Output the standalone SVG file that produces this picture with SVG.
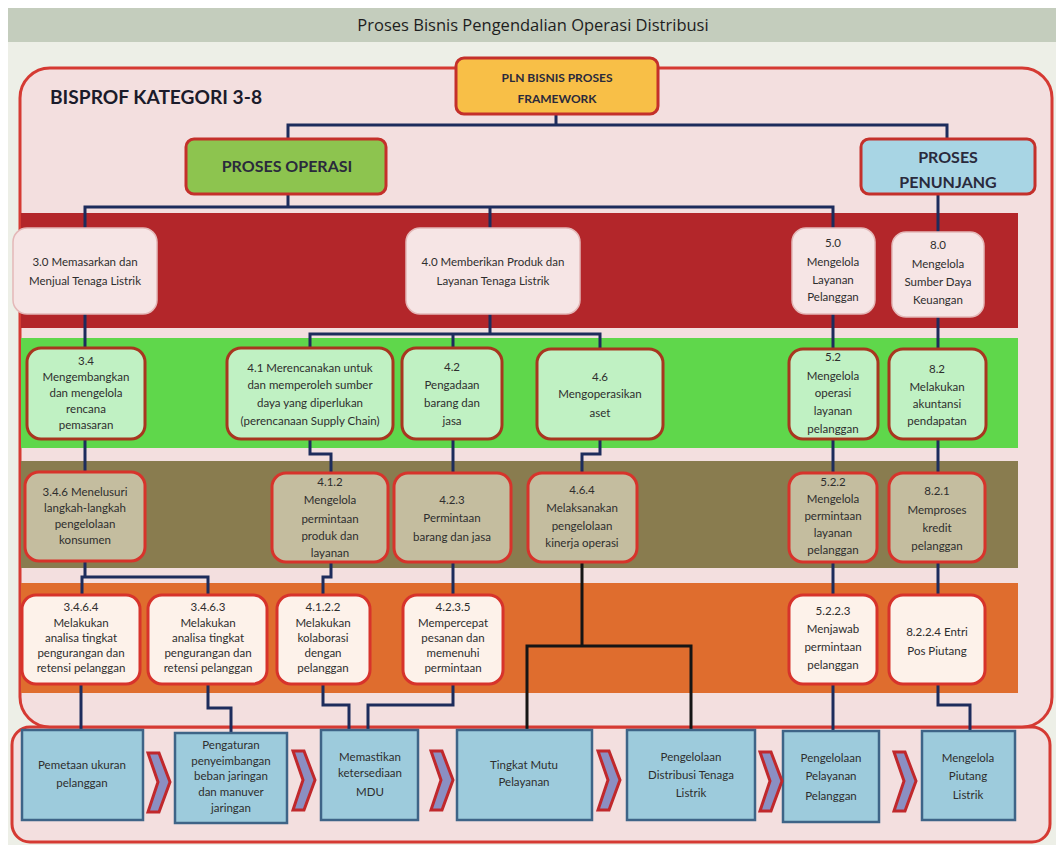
<svg xmlns="http://www.w3.org/2000/svg" width="1056" height="845" viewBox="0 0 1056 845">
  <style>
    .bg { fill: #edefe7; }
    .titlebar { fill: #c4cdbd; }
    .title { font-family: "Open Sans", "Liberation Sans", sans-serif; font-size: 16.5px; fill: #1e1e1e; text-anchor: middle; }
    .frame { fill: #f3dfdf; stroke: #d53a33; stroke-width: 3; }
    .heading { font-family: Lato, "Liberation Sans", sans-serif; font-weight: bold; fill: #1b1b2b; }
    .top { stroke: #c4302b; stroke-width: 3; }
    .top-t { font-family: Lato, "Liberation Sans", sans-serif; font-weight: bold; fill: #2a2a3c; text-anchor: middle; }
    .r1 { fill: #f6e5e5; stroke: #e4b8b8; stroke-width: 1.5; }
    .r2 { fill: #c0f1c3; stroke: #a8361f; stroke-width: 3; }
    .r3 { fill: #c4bd9f; stroke: #d7332b; stroke-width: 3; }
    .r4 { fill: #fdf2ea; stroke: #d7332b; stroke-width: 3; }
    .bx { fill: #9dcbdc; stroke: #3e6487; stroke-width: 2.5; }
    .t { font-family: Lato, "Liberation Sans", sans-serif; font-size: 11.5px; fill: #2e2e2e; text-anchor: middle; }
    .link { fill: none; stroke: #1d2c5c; stroke-width: 3; }
    .link-k { fill: none; stroke: #151515; stroke-width: 3; }
    .chev { fill: #8b8fc2; stroke: #c0282c; stroke-width: 3; stroke-linejoin: miter; }
  </style>
  <defs>
    <polygon id="chevron" points="0,0 11,0 22,29 11,59 0,59 10,29"/>
  </defs>

  <!-- page background and title bar -->
  <rect x="0" y="0" width="1056" height="845" fill="#ffffff"/>
  <rect class="bg" x="8" y="42" width="1048" height="803"/>
  <rect class="titlebar" x="8" y="8" width="1048" height="34"/>
  <text class="title" x="533" y="31">Proses Bisnis Pengendalian Operasi Distribusi</text>

  <!-- frames: value chain strip and category frame -->
  <rect class="frame" x="12" y="727" width="1038" height="115" rx="18"/>
  <rect class="frame" x="20" y="68" width="1032" height="659" rx="30"/>
  <text class="heading" x="50" y="104" font-size="18" textLength="212" lengthAdjust="spacingAndGlyphs">BISPROF KATEGORI 3-8</text>

  <!-- level bands -->
  <g id="bands">
    <rect x="21" y="213" width="997" height="115" fill="#b3262a"/>
    <rect x="21" y="338" width="997" height="110" fill="#5fd74b"/>
    <rect x="21" y="461" width="997" height="107" fill="#897c4f"/>
    <rect x="21" y="583" width="997" height="110" fill="#df6d2e"/>
  </g>

  <!-- connectors -->
  <g id="connectors">
    <path class="link" d="M556 114 V125 M288 139 V125 H947 V140"/>
    <path class="link" d="M288 193 V207 M85 228 V207 H833 V228 M490 207 V228"/>
    <path class="link" d="M938 194 V232"/>
    <path class="link" d="M85 314 V348"/>
    <path class="link" d="M490 314 V334 M310 348 V334 H600 V349 M453 334 V348"/>
    <path class="link" d="M833 313 V349"/>
    <path class="link" d="M938 317 V349"/>
    <path class="link" d="M85 439 V472"/>
    <path class="link" d="M310 439 V454 H331 V473"/>
    <path class="link" d="M453 439 V473"/>
    <path class="link" d="M600 439 V454 H582 V473"/>
    <path class="link" d="M833 439 V473"/>
    <path class="link" d="M938 439 V473"/>
    <path class="link" d="M85 561 V577 M82 595 V577 H208 V595"/>
    <path class="link" d="M331 562 V577 H323 V595"/>
    <path class="link" d="M453 562 V595"/>
    <path class="link" d="M833 562 V595"/>
    <path class="link" d="M938 562 V595"/>
    <path class="link" d="M81 684 V730"/>
    <path class="link" d="M208 684 V708 H231 V733"/>
    <path class="link" d="M323 684 V705 H349 V730"/>
    <path class="link" d="M453 684 V705 H368 V730"/>
    <path class="link" d="M833 684 V731"/>
    <path class="link" d="M938 684 V705 H970 V731"/>
    <path class="link-k" d="M582 562 V646 M527 730 V646 H691 V730"/>
  </g>

  <!-- top level -->
  <g id="pln-framework">
    <rect class="top" x="456" y="58" width="202" height="56" rx="8" fill="#f8bf47"/>
    <text class="top-t" x="557" y="82" font-size="12">PLN BISNIS PROSES</text>
    <text class="top-t" x="557" y="103" font-size="12">FRAMEWORK</text>
  </g>
  <g id="proses-operasi">
    <rect class="top" x="186" y="139" width="200" height="55" rx="8" fill="#8dc44f"/>
    <text class="top-t" x="287" y="172" font-size="16">PROSES OPERASI</text>
  </g>
  <g id="proses-penunjang">
    <rect class="top" x="861" y="139" width="174" height="55" rx="8" fill="#a8d5e4"/>
    <text class="top-t" x="948" y="163" font-size="16">PROSES</text>
    <text class="top-t" x="948" y="188" font-size="16">PENUNJANG</text>
  </g>

  <!-- level 1 -->
  <g id="n3-0">
    <rect class="r1" x="13" y="228" width="144" height="86" rx="14"/>
    <text class="t" x="85" y="266">3.0 Memasarkan dan</text>
    <text class="t" x="85" y="285">Menjual Tenaga Listrik</text>
  </g>
  <g id="n4-0">
    <rect class="r1" x="406" y="228" width="174" height="86" rx="14"/>
    <text class="t" x="493" y="266">4.0 Memberikan Produk dan</text>
    <text class="t" x="493" y="285">Layanan Tenaga Listrik</text>
  </g>
  <g id="n5-0">
    <rect class="r1" x="792" y="228" width="83" height="86" rx="14"/>
    <text class="t" x="833" y="247">5.0</text>
    <text class="t" x="833" y="266">Mengelola</text>
    <text class="t" x="833" y="284">Layanan</text>
    <text class="t" x="833" y="301">Pelanggan</text>
  </g>
  <g id="n8-0">
    <rect class="r1" x="892" y="232" width="92" height="85" rx="14"/>
    <text class="t" x="938" y="249">8.0</text>
    <text class="t" x="938" y="268">Mengelola</text>
    <text class="t" x="938" y="286">Sumber Daya</text>
    <text class="t" x="938" y="304">Keuangan</text>
  </g>

  <!-- level 2 -->
  <g id="n3-4">
    <rect class="r2" x="27" y="348" width="118" height="91" rx="14"/>
    <text class="t" x="86" y="365">3.4</text>
    <text class="t" x="86" y="381">Mengembangkan</text>
    <text class="t" x="86" y="397">dan mengelola</text>
    <text class="t" x="86" y="413">rencana</text>
    <text class="t" x="86" y="429">pemasaran</text>
  </g>
  <g id="n4-1">
    <rect class="r2" x="227" y="348" width="166" height="91" rx="14"/>
    <text class="t" x="310" y="372">4.1 Merencanakan untuk</text>
    <text class="t" x="310" y="389">dan memperoleh sumber</text>
    <text class="t" x="310" y="407">daya yang diperlukan</text>
    <text class="t" x="310" y="425">(perencanaan Supply Chain)</text>
  </g>
  <g id="n4-2">
    <rect class="r2" x="402" y="348" width="100" height="91" rx="14"/>
    <text class="t" x="452" y="371">4.2</text>
    <text class="t" x="452" y="389">Pengadaan</text>
    <text class="t" x="452" y="407">barang dan</text>
    <text class="t" x="452" y="425">jasa</text>
  </g>
  <g id="n4-6">
    <rect class="r2" x="537" y="349" width="126" height="90" rx="14"/>
    <text class="t" x="600" y="381">4.6</text>
    <text class="t" x="600" y="398">Mengoperasikan</text>
    <text class="t" x="600" y="417">aset</text>
  </g>
  <g id="n5-2">
    <rect class="r2" x="789" y="349" width="89" height="90" rx="14"/>
    <text class="t" x="833" y="361">5.2</text>
    <text class="t" x="833" y="380">Mengelola</text>
    <text class="t" x="833" y="397">operasi</text>
    <text class="t" x="833" y="415">layanan</text>
    <text class="t" x="833" y="433">pelanggan</text>
  </g>
  <g id="n8-2">
    <rect class="r2" x="889" y="349" width="97" height="90" rx="14"/>
    <text class="t" x="937" y="373">8.2</text>
    <text class="t" x="937" y="391">Melakukan</text>
    <text class="t" x="937" y="408">akuntansi</text>
    <text class="t" x="937" y="425">pendapatan</text>
  </g>

  <!-- level 3 -->
  <g id="n3-4-6">
    <rect class="r3" x="25" y="472" width="120" height="89" rx="14"/>
    <text class="t" x="85" y="496">3.4.6 Menelusuri</text>
    <text class="t" x="85" y="512">langkah-langkah</text>
    <text class="t" x="85" y="528">pengelolaan</text>
    <text class="t" x="85" y="544">konsumen</text>
  </g>
  <g id="n4-1-2">
    <rect class="r3" x="272" y="473" width="116" height="89" rx="14"/>
    <text class="t" x="330" y="486">4.1.2</text>
    <text class="t" x="330" y="504">Mengelola</text>
    <text class="t" x="330" y="523">permintaan</text>
    <text class="t" x="330" y="540">produk dan</text>
    <text class="t" x="330" y="557">layanan</text>
  </g>
  <g id="n4-2-3">
    <rect class="r3" x="394" y="473" width="117" height="89" rx="14"/>
    <text class="t" x="452" y="504">4.2.3</text>
    <text class="t" x="452" y="522">Permintaan</text>
    <text class="t" x="452" y="541">barang dan jasa</text>
  </g>
  <g id="n4-6-4">
    <rect class="r3" x="528" y="473" width="109" height="89" rx="14"/>
    <text class="t" x="582" y="494">4.6.4</text>
    <text class="t" x="582" y="512">Melaksanakan</text>
    <text class="t" x="582" y="530">pengelolaan</text>
    <text class="t" x="582" y="547">kinerja operasi</text>
  </g>
  <g id="n5-2-2">
    <rect class="r3" x="789" y="473" width="88" height="89" rx="14"/>
    <text class="t" x="833" y="486">5.2.2</text>
    <text class="t" x="833" y="503">Mengelola</text>
    <text class="t" x="833" y="520">permintaan</text>
    <text class="t" x="833" y="537">layanan</text>
    <text class="t" x="833" y="554">pelanggan</text>
  </g>
  <g id="n8-2-1">
    <rect class="r3" x="889" y="473" width="96" height="89" rx="14"/>
    <text class="t" x="937" y="495">8.2.1</text>
    <text class="t" x="937" y="514">Memproses</text>
    <text class="t" x="937" y="532">kredit</text>
    <text class="t" x="937" y="550">pelanggan</text>
  </g>

  <!-- level 4 -->
  <g id="n3-4-6-4">
    <rect class="r4" x="22" y="595" width="118" height="89" rx="14"/>
    <text class="t" x="81" y="611">3.4.6.4</text>
    <text class="t" x="81" y="627">Melakukan</text>
    <text class="t" x="81" y="642">analisa tingkat</text>
    <text class="t" x="81" y="657">pengurangan dan</text>
    <text class="t" x="81" y="672">retensi pelanggan</text>
  </g>
  <g id="n3-4-6-3">
    <rect class="r4" x="148" y="595" width="119" height="89" rx="14"/>
    <text class="t" x="208" y="611">3.4.6.3</text>
    <text class="t" x="208" y="627">Melakukan</text>
    <text class="t" x="208" y="642">analisa tingkat</text>
    <text class="t" x="208" y="657">pengurangan dan</text>
    <text class="t" x="208" y="672">retensi pelanggan</text>
  </g>
  <g id="n4-1-2-2">
    <rect class="r4" x="277" y="595" width="93" height="89" rx="14"/>
    <text class="t" x="323" y="611">4.1.2.2</text>
    <text class="t" x="323" y="627">Melakukan</text>
    <text class="t" x="323" y="642">kolaborasi</text>
    <text class="t" x="323" y="657">dengan</text>
    <text class="t" x="323" y="672">pelanggan</text>
  </g>
  <g id="n4-2-3-5">
    <rect class="r4" x="403" y="595" width="100" height="89" rx="14"/>
    <text class="t" x="453" y="611">4.2.3.5</text>
    <text class="t" x="453" y="627">Mempercepat</text>
    <text class="t" x="453" y="642">pesanan dan</text>
    <text class="t" x="453" y="657">memenuhi</text>
    <text class="t" x="453" y="672">permintaan</text>
  </g>
  <g id="n5-2-2-3">
    <rect class="r4" x="789" y="595" width="88" height="89" rx="14"/>
    <text class="t" x="833" y="615">5.2.2.3</text>
    <text class="t" x="833" y="633">Menjawab</text>
    <text class="t" x="833" y="651">permintaan</text>
    <text class="t" x="833" y="669">pelanggan</text>
  </g>
  <g id="n8-2-2-4">
    <rect class="r4" x="889" y="595" width="96" height="89" rx="14"/>
    <text class="t" x="937" y="636">8.2.2.4 Entri</text>
    <text class="t" x="937" y="655">Pos Piutang</text>
  </g>

  <!-- value chain -->
  <g id="vc-pemetaan">
    <rect class="bx" x="22" y="730" width="121" height="90"/>
    <text class="t" x="82" y="769">Pemetaan ukuran</text>
    <text class="t" x="82" y="787">pelanggan</text>
  </g>
  <g id="vc-pengaturan">
    <rect class="bx" x="175" y="733" width="112" height="90"/>
    <text class="t" x="231" y="749">Pengaturan</text>
    <text class="t" x="231" y="765">penyeimbangan</text>
    <text class="t" x="231" y="780">beban jaringan</text>
    <text class="t" x="231" y="796">dan manuver</text>
    <text class="t" x="231" y="812">jaringan</text>
  </g>
  <g id="vc-mdu">
    <rect class="bx" x="321" y="730" width="97" height="90"/>
    <text class="t" x="370" y="761">Memastikan</text>
    <text class="t" x="370" y="777">ketersediaan</text>
    <text class="t" x="370" y="796">MDU</text>
  </g>
  <g id="vc-mutu">
    <rect class="bx" x="457" y="730" width="135" height="90"/>
    <text class="t" x="524" y="769">Tingkat Mutu</text>
    <text class="t" x="524" y="786">Pelayanan</text>
  </g>
  <g id="vc-distribusi">
    <rect class="bx" x="627" y="730" width="128" height="90"/>
    <text class="t" x="691" y="761">Pengelolaan</text>
    <text class="t" x="691" y="779">Distribusi Tenaga</text>
    <text class="t" x="691" y="797">Listrik</text>
  </g>
  <g id="vc-pelayanan">
    <rect class="bx" x="783" y="731" width="96" height="91"/>
    <text class="t" x="831" y="762">Pengelolaan</text>
    <text class="t" x="831" y="780">Pelayanan</text>
    <text class="t" x="831" y="800">Pelanggan</text>
  </g>
  <g id="vc-piutang">
    <rect class="bx" x="922" y="731" width="93" height="89"/>
    <text class="t" x="968" y="762">Mengelola</text>
    <text class="t" x="968" y="780">Piutang</text>
    <text class="t" x="968" y="799">Listrik</text>
  </g>

  <!-- flow chevrons between value chain steps -->
  <g id="chevrons">
    <use href="#chevron" class="chev" x="148" y="753"/>
    <use href="#chevron" class="chev" x="293" y="751"/>
    <use href="#chevron" class="chev" x="431" y="751"/>
    <use href="#chevron" class="chev" x="598" y="751"/>
    <use href="#chevron" class="chev" x="760" y="752"/>
    <use href="#chevron" class="chev" x="894" y="752"/>
  </g>
</svg>
